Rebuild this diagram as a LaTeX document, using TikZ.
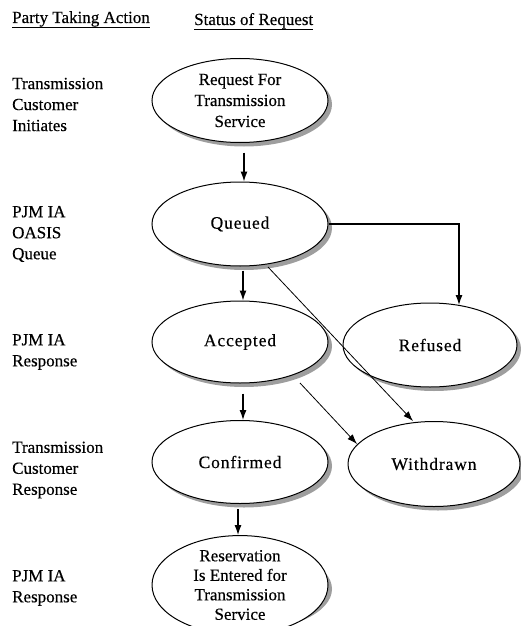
\documentclass[tikz,border=0pt]{standalone}
\usepackage{fontspec}
\setmainfont{Liberation Serif}[FakeBold=0.35]
\usetikzlibrary{shapes.geometric,arrows.meta,calc}
\begin{document}
\begin{tikzpicture}[x=1pt,y=-1pt,
 every node/.style={font=\fontsize{17}{21}\selectfont},
 state/.style={ellipse, draw, line width=1pt, fill=white, minimum width=176pt, minimum height=84pt, inner sep=0pt, align=center},
 spaced/.style={font=\fontsize{17.5}{21}\selectfont\addfontfeature{LetterSpace=5}},
 shadowfill/.style={fill=black!38},
 party/.style={anchor=west, align=left, inner sep=0pt},
 head/.style={anchor=base west, inner sep=0pt},
 uline/.style={line width=0.8pt},
 arr/.style={-{Latex[length=10pt,width=7pt]}, line width=1.2pt},
 diag/.style={-{Latex[length=10pt,width=7pt]}, line width=0.8pt}]

\path[use as bounding box] (0,0) rectangle (521,626);

% shadows (drawn first, behind the ellipses)
\fill[shadowfill] (244,104.5) ellipse [x radius=88, y radius=42];
\fill[shadowfill] (244,228) ellipse [x radius=88, y radius=42];
\fill[shadowfill] (244,346) ellipse [x radius=88, y radius=41];
\fill[shadowfill] (434,349) ellipse [x radius=87, y radius=42];
\fill[shadowfill] (244,466) ellipse [x radius=88, y radius=41.5];
\fill[shadowfill] (438,468) ellipse [x radius=86, y radius=42.5];
\fill[shadowfill] (244,589) ellipse [x radius=88, y radius=42];

% headers
\node[head] (hp) at (12,23) {Party Taking Action};
\node[head] (hs) at (194,25) {Status of Request};
\draw[uline] ([yshift=-4pt]hp.base west) -- ([yshift=-4pt]hp.base east);
\draw[uline] ([yshift=-4pt]hs.base west) -- ([yshift=-4pt]hs.base east);

% left labels
\node[party] (l1) at (12,104.5) {Transmission\\Customer\\Initiates};
\node[party] (l2) at (12,234) {PJM IA\\OASIS\\Queue};
\node[party] (l3) at (12,352) {PJM IA\\Response};
\node[party] (l4) at (12,470) {Transmission\\Customer\\Response};
\node[party] (l5) at (12,588) {PJM IA\\Response};

% states
\node[state] (req) at (240,100.5) {Request For\\Transmission\\Service};
\node[state, spaced] (queued) at (240,224) {Queued};
\node[state, spaced, minimum height=82pt] (accepted) at (240,342) {Accepted};
\node[state, spaced, minimum width=174pt] (refused) at (430,345) {Refused};
\node[state, spaced, minimum height=83pt] (confirmed) at (240,462) {Confirmed};
\node[state, spaced, minimum width=172pt, minimum height=85pt] (withdrawn) at (434,464) {Withdrawn};
\node[state, font=\fontsize{17}{19.5}\selectfont] (res) at (240,585) {Reservation\\Is Entered for\\Transmission\\Service};

% connectors
\draw[arr] ([xshift=4pt,yshift=-9.5pt]req.south) -- ([xshift=4pt]queued.north);
\draw[arr] (queued.east) -| ($(refused.center)+(29,-40)$);
\draw[arr] ([xshift=3pt,yshift=-4pt]queued.south) -- ([xshift=3pt]accepted.north);
\draw[arr] ([xshift=3pt,yshift=-10pt]accepted.south) -- ([xshift=3pt]confirmed.north);
\draw[arr] ([xshift=-2pt,yshift=-5pt]confirmed.south) -- ([xshift=-2pt]res.north);
\draw[diag] ($(queued.center)+(28,43)$) -- ($(withdrawn.center)+(-21,-43)$);
\draw[diag] ($(accepted.center)+(60,41)$) -- ($(withdrawn.center)+(-77,-20)$);
\end{tikzpicture}
\end{document}
